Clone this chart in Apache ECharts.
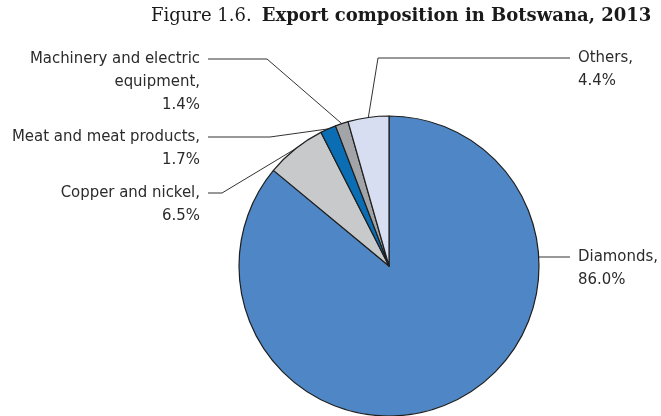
<!DOCTYPE html>
<html>
<head>
<meta charset="utf-8">
<script src="https://cdn.jsdelivr.net/npm/echarts@6/dist/echarts.min.js"></script>
<style>
  html, body { margin: 0; padding: 0; background: #ffffff; }
  #chart { width: 661px; height: 416px; }
</style>
</head>
<body>
<div id="chart"></div>
<script>
// Export shares by product group (per cent of total exports)
const categories = [
  'Diamonds',
  'Copper and nickel',
  'Meat and meat products',
  'Machinery and electric\nequipment',
  'Others'
];
const shares = [86.0, 6.5, 1.7, 1.4, 4.4];

const titleNumber = 'Figure 1.6.';
const titleText = 'Export composition in Botswana, 2013';

// Slice fills, in the same order as the categories
const sliceColors = ['#4f87c6', '#c8c9cb', '#0b6db3', '#a2a4a7', '#d7def2'];

// Pie geometry
const PIE_CENTER = [389, 266];
const PIE_RADIUS = 150;

const LABEL_FONT = "'Liberation Sans Narrow', 'DejaVu Sans Condensed', 'Arial Narrow', sans-serif";
const LINE_H = 23;

// Where each label sits (first-line middle) and the bend of its leader line
const labelSpots = [
  { x: 578, y: 257, align: 'left',  bend: null,      endX: 570, edgeAtLabelY: true },
  { x: 200, y: 193, align: 'right', bend: [222, 193], endX: 208 },
  { x: 200, y: 137, align: 'right', bend: [270, 137], endX: 208 },
  { x: 200, y: 59,  align: 'right', bend: [267, 59],  endX: 208 },
  { x: 578, y: 58,  align: 'left',  bend: [378, 58],  endX: 570 }
];

const chart = echarts.init(document.getElementById('chart'), null, { renderer: 'canvas' });

chart.setOption({
  animation: false,
  backgroundColor: '#ffffff',
  title: {
    left: 146,
    top: 2,
    text: '{n|' + titleNumber + '}  {b|' + titleText + '}',
    textStyle: {
      rich: {
        n: { fontFamily: "'DejaVu Serif', serif", fontSize: 18, color: '#1a1a1a', fontWeight: 'normal' },
        b: { fontFamily: "'DejaVu Serif', serif", fontSize: 18, color: '#1a1a1a', fontWeight: 'bold' }
      }
    }
  },
  series: [{
    type: 'pie',
    center: PIE_CENTER,
    radius: PIE_RADIUS,
    startAngle: 90,
    clockwise: true,
    avoidLabelOverlap: false,
    data: categories.map((name, i) => ({
      name: name,
      value: shares[i],
      itemStyle: { color: sliceColors[i] }
    })),
    itemStyle: { borderColor: '#1e1e1e', borderWidth: 1.2 },
    label: {
      show: true,
      position: 'outside',
      formatter: p => p.name + ',\n' + p.value.toFixed(1) + '%',
      fontFamily: LABEL_FONT,
      fontSize: 16.6,
      lineHeight: LINE_H,
      color: '#2b2b2b'
    },
    labelLine: {
      show: true,
      smooth: false,
      lineStyle: { color: '#333333', width: 1 }
    },
    emphasis: { disabled: true },
    labelLayout: function (p) {
      const s = labelSpots[p.dataIndex];
      let start = p.labelLinePoints ? p.labelLinePoints[0] : PIE_CENTER;
      if (s.edgeAtLabelY) {
        const dy = s.y - PIE_CENTER[1];
        start = [PIE_CENTER[0] + Math.sqrt(PIE_RADIUS * PIE_RADIUS - dy * dy), s.y];
      }
      const bend = s.bend || start;
      return {
        x: s.x,
        y: s.y - LINE_H / 2,
        align: s.align,
        verticalAlign: 'top',
        labelLinePoints: [start, bend, [s.endX, s.y]]
      };
    }
  }]
});
</script>
</body>
</html>
